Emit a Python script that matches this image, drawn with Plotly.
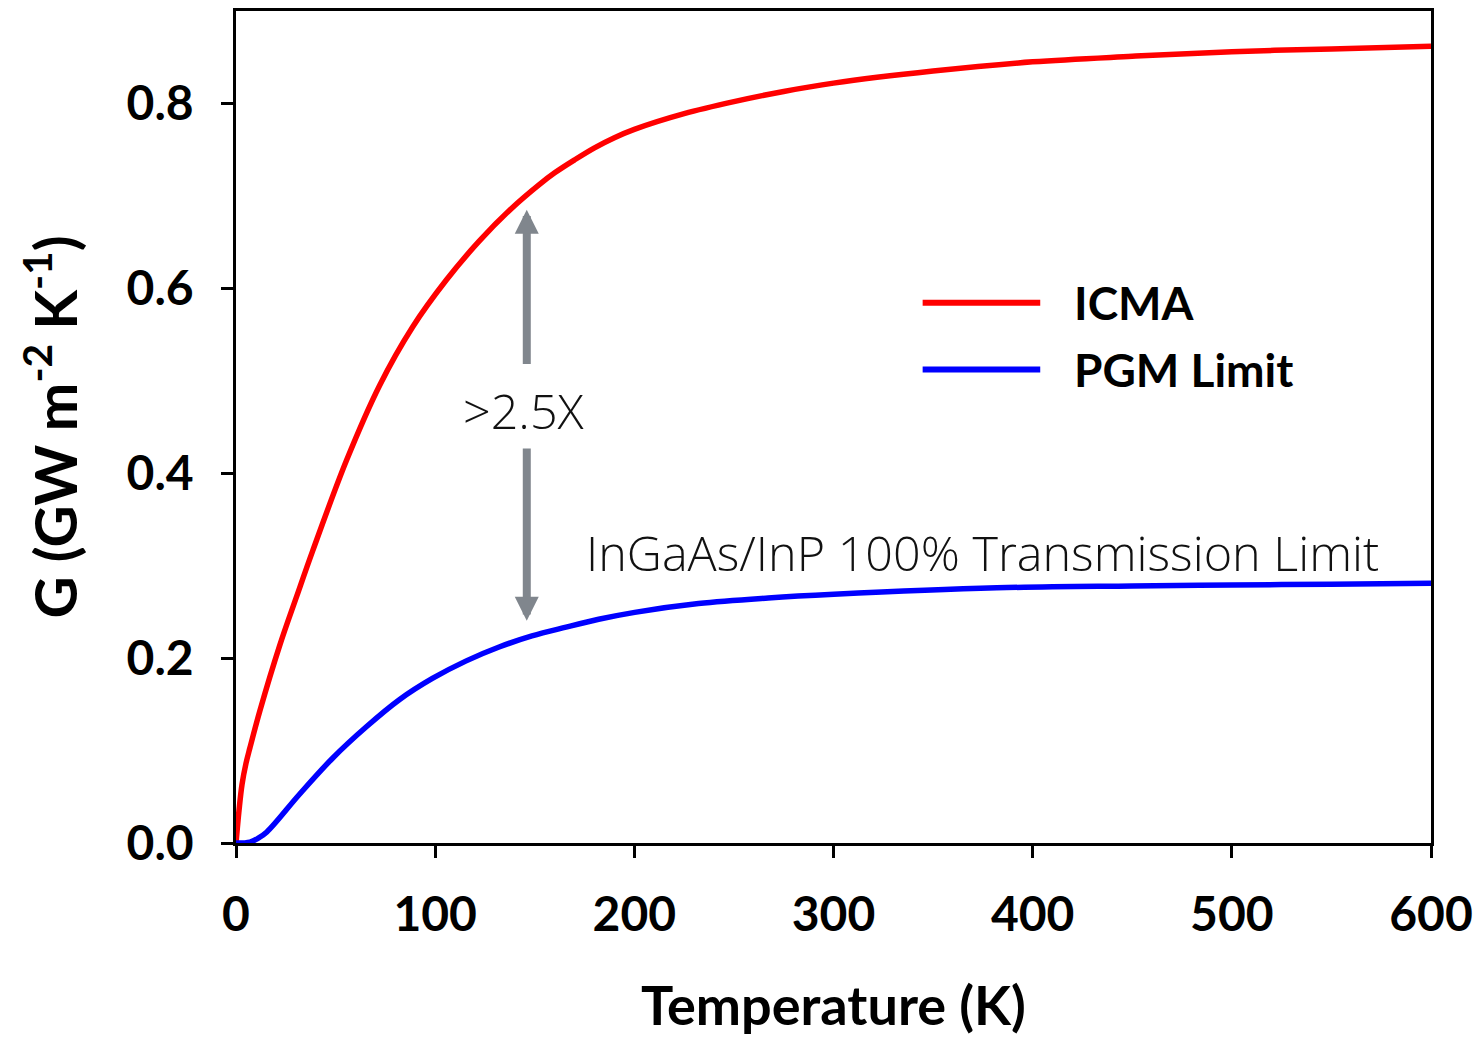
import plotly.graph_objects as go

# ---- data ----
icma_T = [0, 1.5, 3, 5, 7, 12, 22, 30.5, 38.5, 55.5, 72.1, 88.6, 105.6, 122.1, 138.6,
          152.1, 160, 170, 180, 190, 200, 225, 250, 275, 300, 350, 400, 450, 500, 550, 600]
icma_G = [0.0, 0.035, 0.063, 0.086, 0.103, 0.143, 0.214, 0.267, 0.316, 0.414, 0.495,
          0.558, 0.609, 0.651, 0.687, 0.712, 0.725, 0.739, 0.752, 0.763, 0.772, 0.789,
          0.802, 0.813, 0.822, 0.835, 0.845, 0.851, 0.856, 0.859, 0.862]

pgm_T = [0, 7, 11, 15.5, 32, 48.6, 65.6, 82, 98.6, 115.6, 132.1, 148.6, 165.7, 182.1,
         200.2, 232.2, 267.2, 300.2, 382, 450, 500, 550, 600]
pgm_G = [0.0, 0.001, 0.005, 0.012, 0.053, 0.092, 0.126, 0.155, 0.178, 0.197, 0.212,
         0.224, 0.2335, 0.242, 0.2495, 0.259, 0.265, 0.269, 0.276, 0.278, 0.279, 0.280, 0.281]

series_names = ["ICMA", "PGM Limit"]
series_colors = ["#ff0000", "#0000ff"]

x_ticks = [0, 100, 200, 300, 400, 500, 600]
y_ticks = [0.0, 0.2, 0.4, 0.6, 0.8]
y_tick_labels = ["0.0", "0.2", "0.4", "0.6", "0.8"]

arrow_T = 146
arrow_up = (0.5165, 0.685)    # tail, tip
arrow_down = (0.4285, 0.2405)
ratio_label = ">2.5X"
ratio_pos = (144.6, 0.468)
limit_label = "InGaAs/InP 100% Transmission Limit"
limit_pos = (375, 0.3146)

BOLD = "Lato"
LIGHT = "Open Sans"
fig = go.Figure()
for T, G, name, col in [(icma_T, icma_G, series_names[0], series_colors[0]),
                        (pgm_T, pgm_G, series_names[1], series_colors[1])]:
    fig.add_trace(go.Scatter(x=T, y=G, mode="lines", name=name,
                             line=dict(color=col, width=5.5, shape="spline", smoothing=1.0),
                             showlegend=False, hoverinfo="skip"))

gray = "#80868d"
annotations = []
for tail, tip in (arrow_up, arrow_down):
    annotations.append(dict(x=arrow_T, y=tip, ax=arrow_T, ay=tail, xref="x", yref="y",
                            axref="x", ayref="y", text="", showarrow=True,
                            arrowhead=2, arrowsize=0.6, arrowwidth=8, arrowcolor=gray,
                            standoff=0, startstandoff=0))
annotations.append(dict(x=ratio_pos[0], y=ratio_pos[1], xref="x", yref="y", text=ratio_label,
                        showarrow=False, font=dict(family=LIGHT, size=48.5, color="#111111", weight=300)))
annotations.append(dict(x=limit_pos[0], y=limit_pos[1], xref="x", yref="y", text=limit_label,
                        showarrow=False, font=dict(family=LIGHT, size=48.5, color="#111111", weight=300)))

# manual legend
shapes = []
leg_y = [0.6492, 0.5692]
for name, col, yy in zip(series_names, series_colors, leg_y):
    shapes.append(dict(type="line", xref="paper", yref="paper", x0=0.5746, x1=0.673,
                       y0=yy, y1=yy, line=dict(color=col, width=6)))
    annotations.append(dict(x=0.6998, y=yy, xref="paper", yref="paper", text=name,
                            xanchor="left", yanchor="middle", showarrow=False,
                            font=dict(family=BOLD, size=46, color="black", weight="bold")))

fig.update_layout(
    width=1481, height=1037,
    margin=dict(l=236, r=44, t=8, b=191),
    plot_bgcolor="white", paper_bgcolor="white",
    annotations=annotations, shapes=shapes,
    font=dict(family=BOLD, color="black"),
)
fig.update_xaxes(range=[0, 600], tickvals=x_ticks, ticks="outside", ticklen=12, tickwidth=2.5,
                 tickcolor="black", showline=True, linecolor="black", linewidth=2.5,
                 mirror=True, showgrid=False, zeroline=False,
                 tickfont=dict(family=BOLD, size=48, color="black", weight="bold"),
                 ticklabelstandoff=16,
                 title=dict(text="Temperature (K)", standoff=50,
                            font=dict(family=BOLD, size=54, color="black", weight="bold")))
fig.update_yaxes(range=[0, 0.9], tickvals=y_ticks, ticktext=y_tick_labels, ticks="outside",
                 ticklen=12, tickwidth=2.5, tickcolor="black", showline=True, linecolor="black",
                 linewidth=2.5, mirror=True, showgrid=False, zeroline=False,
                 tickfont=dict(family=BOLD, size=48, color="black", weight="bold"),
                 ticklabelstandoff=18,
                 title=dict(text="G (GW m<sup>-2</sup> K<sup>-1</sup>)", standoff=31,
                            font=dict(family=BOLD, size=58, color="black", weight="bold")))

fig.write_html("out.html", config={"displayModeBar": False},
               post_script="document.body.style.margin='0px';")
